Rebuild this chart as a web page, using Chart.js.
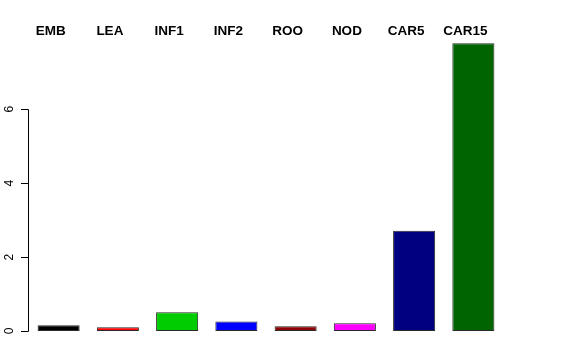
<!DOCTYPE html>
<html>
<head>
<meta charset="utf-8">
<script src="https://cdn.jsdelivr.net/npm/chart.js@4/dist/chart.umd.min.js"></script>
<style>
html,body{margin:0;padding:0;background:#fff;}
#wrap{width:576px;height:360px;}
</style>
</head>
<body>
<div id="wrap"><canvas id="c" width="576" height="360"></canvas></div>
<script>
const categories = ["EMB", "LEA", "INF1", "INF2", "ROO", "NOD", "CAR5", "CAR15"];
const values = [0.155, 0.10, 0.505, 0.26, 0.127, 0.21, 2.71, 7.78];
const barColors = ["#000000", "#FF0000", "#00CD00", "#0000FF", "#8B0000", "#FF00FF", "#000080", "#006400"];
const yTicks = [0, 2, 4, 6];

const rAxis = {
  id: 'rAxis',
  afterDraw(chart) {
    const y = chart.scales.y;
    const ctx = chart.ctx;
    const x0 = Math.round(chart.chartArea.left) - 0.5;
    ctx.save();
    ctx.strokeStyle = '#000';
    ctx.lineWidth = 1;
    ctx.beginPath();
    const top = Math.round(y.getPixelForValue(yTicks[yTicks.length - 1])) + 0.5;
    const bot = Math.round(y.getPixelForValue(yTicks[0])) + 0.5;
    ctx.moveTo(x0, top);
    ctx.lineTo(x0, bot);
    yTicks.forEach(t => {
      const py = Math.round(y.getPixelForValue(t)) + 0.5;
      ctx.moveTo(x0, py);
      ctx.lineTo(x0 - 7.5, py);
    });
    ctx.stroke();
    ctx.fillStyle = '#000';
    ctx.font = '12px "Liberation Sans", Arial, sans-serif';
    ctx.textAlign = 'center';
    ctx.textBaseline = 'middle';
    yTicks.forEach(t => {
      const py = y.getPixelForValue(t);
      ctx.save();
      ctx.translate(10, py);
      ctx.rotate(-Math.PI / 2);
      ctx.fillText(String(t), 0, 0);
      ctx.restore();
    });
    ctx.restore();
  }
};

new Chart(document.getElementById('c'), {
  type: 'bar',
  data: {
    labels: categories,
    datasets: [{
      data: values,
      backgroundColor: barColors,
      borderColor: '#2a2a2a',
      borderWidth: 1,
      borderSkipped: false,
      barPercentage: 0.71,
      categoryPercentage: 1.0
    }]
  },
  options: {
    responsive: false,
    animation: false,
    devicePixelRatio: 1,
    layout: { padding: { left: 29, right: 73, top: 23, bottom: 18 } },
    plugins: { legend: { display: false }, tooltip: { enabled: false } },
    scales: {
      x: {
        position: 'top',
        offset: true,
        grid: { display: false, drawTicks: false },
        border: { display: false },
        ticks: {
          color: '#000',
          padding: 0,
          labelOffset: -8,
          maxRotation: 0,
          autoSkip: false,
          font: { family: '"Liberation Sans", Arial, sans-serif', size: 13.5, weight: 'bold' }
        }
      },
      y: {
        display: false,
        min: -0.297,
        max: 7.89
      }
    }
  },
  plugins: [rAxis]
});
</script>
</body>
</html>
